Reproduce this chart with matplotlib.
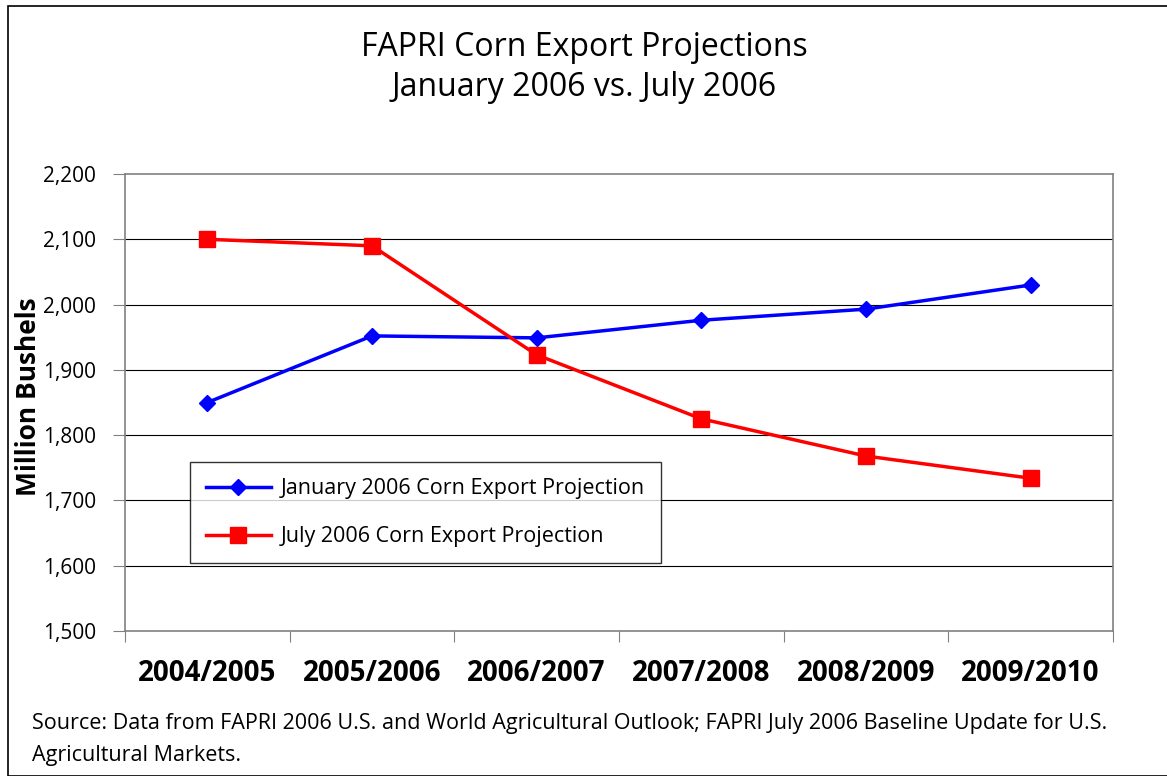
import matplotlib
matplotlib.use("Agg")
import matplotlib.pyplot as plt
from matplotlib.patches import Rectangle

categories = ["2004/2005", "2005/2006", "2006/2007", "2007/2008", "2008/2009", "2009/2010"]
jan_2006 = [1850, 1952, 1949, 1976, 1993, 2030]
jul_2006 = [2100, 2090, 1923, 1825, 1768, 1734]
yticks = [1500, 1600, 1700, 1800, 1900, 2000, 2100, 2200]

plt.rcParams['font.family'] = ['Open Sans', 'DejaVu Sans']

fig = plt.figure(figsize=(11.67, 7.76), dpi=100)
fig.patches.append(Rectangle((8/1167, 0), 1.2, 1 - 6/776, transform=fig.transFigure,
                             fill=False, edgecolor='black', linewidth=1.2))
ax = fig.add_axes([125/1167, 1 - 631/776, (1113-125)/1167, (631-174)/776])

x = list(range(len(categories)))
ax.plot(x, jan_2006, color='#0000FF', linewidth=2.5, marker='D', markersize=8,
        label='January 2006 Corn Export Projection', zorder=3)
ax.plot(x, jul_2006, color='#FF0000', linewidth=2.5, marker='s', markersize=11,
        label='July 2006 Corn Export Projection', zorder=3)

ax.set_xlim(-0.5, len(categories) - 0.5)
ax.set_ylim(1500, 2200)
ax.set_yticks(yticks)
ax.set_yticklabels([f"{v:,}" for v in yticks], fontsize=15)
for v in yticks[1:-1]:
    ax.axhline(v, color='black', linewidth=0.8, zorder=1)

ax.set_xticks([i + 0.5 for i in range(-1, len(categories))], minor=False)
ax.set_xticklabels([])
ax.set_xticks(x, minor=True)
ax.set_xticklabels(categories, minor=True, fontsize=20, fontweight='bold')
ax.tick_params(axis='x', which='minor', length=0, pad=20)
ax.tick_params(axis='x', which='major', length=8, direction='out', color='#808080')
ax.tick_params(axis='y', length=9, direction='out', color='#808080', pad=12)

for s in ['top', 'right', 'left', 'bottom']:
    ax.spines[s].set_color('#808080')
    ax.spines[s].set_linewidth(1.2)

ax.set_ylabel('Million Bushels', fontsize=19, fontweight='bold')
ax.yaxis.set_label_coords((42 - 125) / 988, (631 - 397) / 457)

leg = ax.legend(loc='upper left', bbox_to_anchor=((190-125)/988, (631-462)/457),
                fontsize=15.5, frameon=True, fancybox=False, edgecolor='black',
                handlelength=3.0, handletextpad=0.45, borderpad=0.75, labelspacing=1.25,
                borderaxespad=0)
leg.get_frame().set_linewidth(1.0)

fig.text(584/1167, 1 - 47/776, 'FAPRI Corn Export Projections', ha='center', va='center', fontsize=23)
fig.text(584/1167, 1 - 88/776, 'January 2006 vs. July 2006', ha='center', va='center', fontsize=23)

fig.text(32/1167, 1 - 724/776,
         'Source: Data from FAPRI 2006 U.S. and World Agricultural Outlook; FAPRI July 2006 Baseline Update for U.S.',
         ha='left', va='center', fontsize=15.5)
fig.text(32/1167, 1 - 755/776, 'Agricultural Markets.', ha='left', va='center', fontsize=15.5)

fig.savefig('out.png', dpi=100)
